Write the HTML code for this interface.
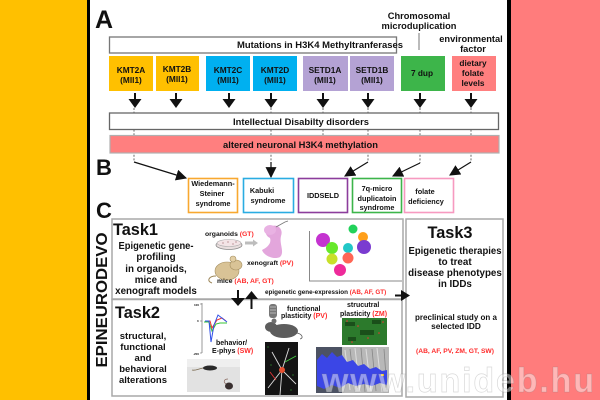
<!DOCTYPE html>
<html>
<head>
<meta charset="utf-8">
<style>
  html,body{margin:0;padding:0;background:#fff;}
  svg{display:block;}
  text{font-family:"Liberation Sans",Arial,sans-serif;font-weight:bold;fill:#111;}
  .r{fill:#ff2a2a;}
</style>
</head>
<body>
<svg width="600" height="400" viewBox="0 0 600 400" xmlns="http://www.w3.org/2000/svg">
  <defs>
    <marker id="ah" viewBox="0 0 10 10" refX="9" refY="5" markerWidth="11" markerHeight="11" markerUnits="userSpaceOnUse" orient="auto">
      <path d="M0,0 L10,5 L0,10 z" fill="#111"/>
    </marker>
  </defs>

  <!-- background panels -->
  <rect x="0" y="0" width="600" height="400" fill="#fff"/>
  <rect x="0" y="0" width="87" height="400" fill="#ffc000"/>
  <rect x="87" y="0" width="3" height="400" fill="#000"/>
  <rect x="511" y="0" width="89" height="400" fill="#ff7c7c"/>
  <rect x="507" y="0" width="4" height="400" fill="#000"/>

  <!-- Section letters -->
  <text x="95" y="28" font-size="25">A</text>
  <text x="96" y="175" font-size="22">B</text>
  <text x="96" y="218" font-size="22">C</text>

  <!-- Chromosomal microduplication / environmental factor -->
  <text x="419" y="19" font-size="9.3" text-anchor="middle">Chromosomal</text>
  <text x="419" y="29" font-size="9.3" text-anchor="middle">microduplication</text>
  <line x1="419" y1="33" x2="419" y2="50" stroke="#777" stroke-width="1"/>
  <text x="471" y="42" font-size="9.3" text-anchor="middle">environmental</text>
  <text x="473" y="52" font-size="9.3" text-anchor="middle">factor</text>

  <!-- Mutations box -->
  <rect x="109.5" y="37" width="287" height="16" fill="#fff" stroke="#777" stroke-width="1.3"/>
  <text x="237" y="48" font-size="9" textLength="166" lengthAdjust="spacingAndGlyphs">Mutations in H3K4 Methyltranferases</text>

  <!-- dashed lines (behind boxes) -->
  <g stroke="#444" stroke-width="0.8" stroke-dasharray="2,1.6" fill="none">
    <line x1="134" y1="108" x2="134" y2="162"/>
    <line x1="271" y1="108" x2="271" y2="163"/>
    <line x1="323" y1="108" x2="323" y2="136"/>
    <line x1="368" y1="108" x2="368" y2="162"/>
    <line x1="420" y1="108" x2="420" y2="163"/>
    <line x1="471" y1="108" x2="471" y2="162"/>
  </g>

  <!-- Gene boxes -->
  <rect x="109" y="56" width="44" height="35" fill="#ffc000"/>
  <rect x="156" y="56" width="43" height="35" fill="#ffc000"/>
  <rect x="206" y="56" width="44" height="35" fill="#00b0f0"/>
  <rect x="253" y="56" width="44" height="35" fill="#00b0f0"/>
  <rect x="303" y="56" width="45" height="35" fill="#b4a2d4"/>
  <rect x="350" y="56" width="44" height="35" fill="#b4a2d4"/>
  <rect x="401" y="56" width="44" height="35" fill="#3db54a"/>
  <rect x="452" y="56" width="44" height="35" fill="#ff7f7f"/>

  <g font-size="8.3" text-anchor="middle">
    <text x="131" y="73">KMT2A</text><text x="131" y="83">(Mll1)</text>
    <text x="177" y="72">KMT2B</text><text x="177" y="82">(Mll1)</text>
    <text x="228" y="73">KMT2C</text><text x="228" y="83">(Mll1)</text>
    <text x="275" y="73">KMT2D</text><text x="275" y="83">(Mll1)</text>
    <text x="325" y="73">SETD1A</text><text x="325" y="83">(Mll1)</text>
    <text x="372" y="73">SETD1B</text><text x="372" y="83">(Mll1)</text>
    <text x="422" y="76">7 dup</text>
    <text x="473" y="66">dietary</text><text x="473" y="76">folate</text><text x="473" y="86">levels</text>
  </g>

  <!-- down arrows under gene boxes -->
  <g fill="#111">
    <rect x="134" y="93" width="2" height="7"/><polygon points="128.5,99 141.5,99 135,108"/>
    <rect x="175" y="93" width="2" height="7"/><polygon points="169.5,99 182.5,99 176,108"/>
    <rect x="228" y="93" width="2" height="7"/><polygon points="222.5,99 235.5,99 229,108"/>
    <rect x="270" y="93" width="2" height="7"/><polygon points="264.5,99 277.5,99 271,108"/>
    <rect x="322" y="93" width="2" height="7"/><polygon points="316.5,99 329.5,99 323,108"/>
    <rect x="367" y="93" width="2" height="7"/><polygon points="361.5,99 374.5,99 368,108"/>
    <rect x="419" y="93" width="2" height="7"/><polygon points="413.5,99 426.5,99 420,108"/>
    <rect x="470" y="93" width="2" height="7"/><polygon points="464.5,99 477.5,99 471,108"/>
  </g>

  <!-- ID box -->
  <rect x="109.5" y="113" width="389" height="16.5" fill="#fff" stroke="#666" stroke-width="1.3"/>
  <text x="233" y="125" font-size="9" textLength="136" lengthAdjust="spacingAndGlyphs">Intellectual Disabilty disorders</text>

  <!-- altered box -->
  <rect x="110" y="135.5" width="389" height="17.5" fill="#ff7f7f" stroke="#b0b0b0" stroke-width="1.2"/>
  <text x="223" y="148" font-size="9" textLength="155" lengthAdjust="spacingAndGlyphs">altered neuronal H3K4 methylation</text>

  <!-- arrows to syndromes -->
  <g stroke="#111" stroke-width="1.2" fill="none">
    <line x1="134" y1="162" x2="186" y2="178" marker-end="url(#ah)"/>
    <line x1="271" y1="162" x2="271" y2="177" marker-end="url(#ah)"/>
    <line x1="368" y1="162" x2="345" y2="176" marker-end="url(#ah)"/>
    <line x1="420" y1="163" x2="393" y2="176" marker-end="url(#ah)"/>
    <line x1="471" y1="162" x2="450" y2="175" marker-end="url(#ah)"/>
  </g>

  <!-- syndrome boxes -->
  <g fill="#fff" stroke-width="1.6">
    <rect x="188.5" y="178.5" width="49" height="34" stroke="#f8a830"/>
    <rect x="243.5" y="178.5" width="50" height="34" stroke="#2aace2"/>
    <rect x="298.5" y="178.5" width="49" height="34" stroke="#8c3d9c"/>
    <rect x="352.5" y="178.5" width="49" height="34" stroke="#3cb54a"/>
    <rect x="404.5" y="178.5" width="49" height="34" stroke="#f79ac0"/>
  </g>
  <g font-size="7.3" text-anchor="middle">
    <text x="213" y="186">Wiedemann-</text>
    <text x="212" y="196">Steiner</text>
    <text x="213" y="206">syndrome</text>
    <text x="262" y="193">Kabuki</text>
    <text x="268" y="203">syndrome</text>
    <text x="323" y="198">IDDSELD</text>
    <text x="377" y="191">7q-micro</text>
    <text x="377" y="201">duplicatoin</text>
    <text x="377" y="210">syndrome</text>
    <text x="425" y="194">folate</text>
    <text x="426" y="204">deficiency</text>
  </g>

  <!-- EPINEURODEVO vertical -->
  <text x="0" y="0" font-size="15.5" text-anchor="middle" textLength="135" lengthAdjust="spacingAndGlyphs" transform="translate(107,300) rotate(-90)">EPINEURODEVO</text>

  <!-- Task boxes -->
  <rect x="112" y="219" width="291" height="80" fill="#fff" stroke="#a8a8a8" stroke-width="1.5"/>
  <rect x="112" y="299.5" width="290" height="96.5" fill="#fff" stroke="#a8a8a8" stroke-width="1.5"/>
  <rect x="406" y="219" width="97" height="178" fill="#fff" stroke="#a8a8a8" stroke-width="1.5"/>

  <!-- Task1 text -->
  <text x="113" y="235" font-size="16.5" textLength="45" lengthAdjust="spacingAndGlyphs">Task1</text>
  <g font-size="9.8" text-anchor="middle">
    <text x="156" y="249" textLength="75" lengthAdjust="spacingAndGlyphs">Epigenetic gene-</text>
    <text x="156" y="260">profiling</text>
    <text x="156" y="272">in organoids,</text>
    <text x="156" y="283">mice and</text>
    <text x="156" y="294">xenograft models</text>
  </g>

  <!-- Task1 images -->
  <text x="205" y="236" font-size="6.8">organoids <tspan class="r">(GT)</tspan></text>
  <ellipse cx="229" cy="245" rx="13" ry="4.5" fill="#e9dede" stroke="#888" stroke-width="0.8"/>
  <ellipse cx="229" cy="243" rx="12" ry="3.5" fill="#f3e4e6" stroke="#aaa" stroke-width="0.6"/>
  <g fill="#c9a5a8"><circle cx="223" cy="243" r="0.9"/><circle cx="228" cy="242" r="0.9"/><circle cx="233" cy="244" r="0.9"/><circle cx="236" cy="242" r="0.9"/></g>
  <polygon points="245,241.5 253,241.5 253,239.5 258,243 253,246.5 253,244.5 245,244.5" fill="#bdbdbd"/>
  <!-- pink xenograft mouse -->
  <path d="M268,228 C276,222 284,228 281,236 C279,244 285,252 280,257 C274,260 264,256 262,250 C266,248 272,244 270,238 C266,236 264,232 268,228 Z" fill="#e3a6dc"/>
  <ellipse cx="270" cy="230" rx="6" ry="5" fill="#e9b2e3"/>
  <path d="M276,227 L285,222 L288,221" stroke="#777" stroke-width="0.8" fill="none"/>
  <text x="247" y="265" font-size="6.8">xenograft <tspan class="r">(PV)</tspan></text>
  <!-- tan mouse -->
  <ellipse cx="227" cy="271" rx="12" ry="9" fill="#d9c396" stroke="#a58f60" stroke-width="0.6"/>
  <ellipse cx="236" cy="265" rx="6" ry="5" fill="#d9c396" stroke="#a58f60" stroke-width="0.6"/>
  <circle cx="233" cy="259" r="3" fill="#e3cfa5" stroke="#a58f60" stroke-width="0.6"/>
  <path d="M216,276 C209,276 206,281 212,283" stroke="#9c8658" stroke-width="1" fill="none"/>
  <text x="217" y="283" font-size="6.8">mice <tspan class="r">(AB, AF, GT)</tspan></text>

  <!-- tSNE -->
  <polyline points="309.5,231 309.5,281 402,281" fill="none" stroke="#888" stroke-width="1"/>
  <circle cx="323" cy="240" r="7" fill="#c433d0"/>
  <circle cx="353" cy="229" r="4.5" fill="#22d25a"/>
  <circle cx="363" cy="237" r="5" fill="#ff9f1a"/>
  <circle cx="364" cy="247" r="7" fill="#7a3bd0"/>
  <circle cx="332" cy="248" r="6" fill="#66e82a"/>
  <circle cx="348" cy="248" r="5" fill="#22c7c7"/>
  <circle cx="348" cy="258" r="5.5" fill="#ff6655"/>
  <circle cx="332" cy="259" r="5.5" fill="#c8e02a"/>
  <circle cx="340" cy="270" r="6" fill="#ee2a9a"/>
  <text x="265" y="294" font-size="6.3">epigenetic gene-expression <tspan class="r">(AB, AF, GT)</tspan></text>

  <!-- arrows between tasks -->
  <g fill="#111">
    <rect x="237" y="290" width="2" height="9"/><polygon points="231,298 245,298 238,306"/>
    <rect x="250.5" y="297" width="2" height="12"/><polygon points="245,299 258,299 251.5,291"/>
    <rect x="395" y="294.5" width="8" height="2"/><polygon points="401,290 401,301 410,295.5"/>
  </g>

  <!-- Task2 text -->
  <text x="115" y="318" font-size="16.5" textLength="45" lengthAdjust="spacingAndGlyphs">Task2</text>
  <g font-size="9.5" text-anchor="middle">
    <text x="143" y="339">structural,</text>
    <text x="143" y="350">functional</text>
    <text x="143" y="361">and</text>
    <text x="143" y="372">behavioral</text>
    <text x="143" y="383">alterations</text>
  </g>

  <!-- ephys plot -->
  <line x1="202" y1="303" x2="202" y2="353" stroke="#555" stroke-width="0.6"/>
  <g stroke="#555" stroke-width="0.5"><line x1="200" y1="304" x2="202" y2="304"/><line x1="200" y1="321" x2="202" y2="321"/><line x1="200" y1="353" x2="202" y2="353"/></g>
  <text x="194" y="306" font-size="3" font-weight="normal">100</text>
  <text x="197" y="322" font-size="3" font-weight="normal">0</text>
  <text x="193" y="355" font-size="3" font-weight="normal">-200</text>
  <polyline points="204,322 209,322 212,331 216,324 220,323 227,323" fill="none" stroke="#37c437" stroke-width="1"/>
  <polyline points="205,321 210,321 212,328 217,320 222,318 226,321" fill="none" stroke="#e33" stroke-width="1"/>
  <polyline points="205,321 209,321 211,342 214,325 218,315 227,322" fill="none" stroke="#3050e8" stroke-width="1"/>
  <text x="216" y="345" font-size="7">behavior/</text>
  <text x="212" y="353" font-size="7">E-phys <tspan class="r">(SW)</tspan></text>
  <!-- mice photo -->
  <rect x="187" y="359" width="53" height="33" fill="#e2e2e2"/>
  <rect x="187" y="359" width="53" height="8" fill="#efefef"/>
  <ellipse cx="210" cy="368" rx="7" ry="2.5" fill="#2a2a2a"/>
  <path d="M203,368 C198,369 195,371 192,370" stroke="#7a6a50" stroke-width="0.8" fill="none"/>
  <ellipse cx="229" cy="386" rx="4" ry="3.5" fill="#3a3030"/>
  <path d="M226,384 C223,382 224,379 228,379" stroke="#8a6a60" stroke-width="0.7" fill="none"/>

  <!-- functional plasticity -->
  <text x="287" y="311" font-size="7">functional</text>
  <text x="281" y="318" font-size="7">plasticity <tspan class="r">(PV)</tspan></text>
  <rect x="269" y="304" width="8" height="14" rx="3" fill="#777"/>
  <g stroke="#ddd" stroke-width="0.6"><line x1="270" y1="307" x2="276" y2="307"/><line x1="270" y1="310" x2="276" y2="310"/><line x1="270" y1="313" x2="276" y2="313"/></g>
  <ellipse cx="284" cy="331" rx="14" ry="7" fill="#5d5d5d"/>
  <ellipse cx="271" cy="327" rx="6" ry="5" fill="#5d5d5d"/>
  <circle cx="274" cy="321" r="2.5" fill="#6e6e6e"/>
  <path d="M297,333 C302,334 304,338 300,339" stroke="#555" stroke-width="0.8" fill="none"/>
  <!-- neuron image -->
  <rect x="265" y="342" width="33" height="53" fill="#141414"/>
  <g fill="none" stroke-width="0.9">
    <path d="M282,370 L289,348 M282,370 L272,352 M282,370 L296,384 M282,370 L268,388 M282,370 L280,395" stroke="#ddd"/>
    <path d="M285,362 L296,356" stroke="#4c4"/>
    <path d="M276,380 L270,372" stroke="#d33"/>
  </g>
  <circle cx="282" cy="370" r="3" fill="#e65030"/>
  <g fill="#3a3"><circle cx="268" cy="347" r="0.6"/><circle cx="293" cy="375" r="0.6"/><circle cx="271" cy="365" r="0.6"/><circle cx="291" cy="390" r="0.6"/></g>

  <!-- structural plasticity -->
  <text x="347" y="307" font-size="7">strucutral</text>
  <text x="340" y="316" font-size="7">plasticity <tspan class="r">(ZM)</tspan></text>
  <rect x="342" y="318" width="45" height="27" fill="#2c7a2c"/>
  <g fill="#1a4f1a"><rect x="345" y="322" width="10" height="4"/><rect x="360" y="330" width="14" height="5"/><rect x="348" y="337" width="8" height="4"/><rect x="372" y="320" width="9" height="4"/></g>
  <g fill="#e33"><circle cx="347" cy="321" r="0.8"/><circle cx="358" cy="326" r="0.8"/><circle cx="368" cy="338" r="0.8"/><circle cx="379" cy="333" r="0.8"/><circle cx="352" cy="342" r="0.8"/><circle cx="383" cy="322" r="0.8"/></g>

  <!-- 3D blue image -->
  <rect x="316" y="347" width="26" height="46" fill="#4c5263"/>
  <rect x="342" y="347" width="47" height="46" fill="#b8b8b8"/>
  <g stroke="#eee" stroke-width="1" opacity="0.7"><line x1="345" y1="350" x2="350" y2="390"/><line x1="355" y1="348" x2="360" y2="392"/><line x1="366" y1="349" x2="371" y2="391"/><line x1="377" y1="348" x2="382" y2="392"/></g>
  <g stroke="#666" stroke-width="0.8" opacity="0.6"><line x1="350" y1="349" x2="355" y2="391"/><line x1="361" y1="348" x2="365" y2="392"/><line x1="372" y1="349" x2="376" y2="391"/><line x1="384" y1="349" x2="387" y2="390"/></g>
  <path d="M317,360 L322,354 L327,358 L332,352 L337,357 L342,355 L347,362 L353,360 L358,366 L364,364 L370,369 L376,367 L382,371 L387,370 L387,385 L380,383 L372,386 L364,384 L356,386 L348,383 L340,388 L332,385 L324,389 L317,386 Z" fill="#3b46e6"/>
  <rect x="381" y="374" width="3" height="2" fill="#f5c000"/>

  <!-- Task3 -->
  <text x="450" y="238" font-size="16.5" text-anchor="middle" textLength="45" lengthAdjust="spacingAndGlyphs">Task3</text>
  <g font-size="9.8" text-anchor="middle">
    <text x="455" y="254" textLength="93" lengthAdjust="spacingAndGlyphs">Epigenetic therapies</text>
    <text x="455" y="265">to treat</text>
    <text x="455" y="276">disease phenotypes</text>
    <text x="455" y="287">in IDDs</text>
  </g>
  <g font-size="8.3" text-anchor="middle">
    <text x="456" y="320" textLength="82" lengthAdjust="spacingAndGlyphs">preclinical study on a</text>
    <text x="456" y="329">selected IDD</text>
  </g>
  <text x="455" y="353" font-size="6.8" text-anchor="middle" class="r" textLength="78" lengthAdjust="spacingAndGlyphs">(AB, AF, PV, ZM, GT, SW)</text>

  <!-- watermark -->
  <text x="322" y="392" font-size="34" font-weight="normal" textLength="272" lengthAdjust="spacing" style="fill:rgba(255,255,255,0.45);stroke:rgba(120,120,120,0.28);stroke-width:0.7">www.unideb.hu</text>
</svg>
</body>
</html>
